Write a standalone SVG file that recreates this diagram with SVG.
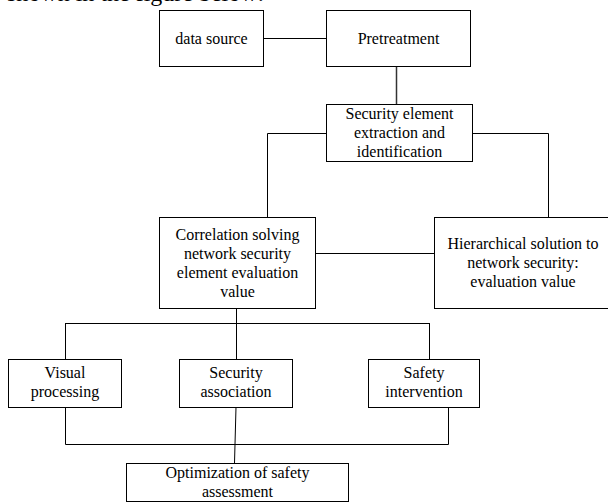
<svg xmlns="http://www.w3.org/2000/svg" width="608" height="503" viewBox="0 0 608 503">
<style>
.box{fill:#fff;stroke:#000;stroke-width:1}
.t{font-family:"Liberation Serif","Times New Roman",serif;font-size:16px;fill:#000;text-anchor:middle}
.c{fill:none;stroke:#000;stroke-width:1}
.head{font-family:"Liberation Serif","Times New Roman",serif;font-size:24px;fill:#000}
</style>
<rect width="608" height="503" fill="#fff"/>
<text class="head" x="7" y="0.5">shown in the figure below:</text>
<g id="connectors">
<line class="c" x1="263" y1="38.5" x2="326" y2="38.5"/>
<line class="c" x1="396.5" y1="66" x2="396.5" y2="104" style="stroke:#333;stroke-width:1.5"/>
<polyline class="c" points="326,133.5 267.5,133.5 267.5,217"/>
<polyline class="c" points="472,133.5 548.5,133.5 548.5,217"/>
<line class="c" x1="315" y1="253.5" x2="434" y2="253.5"/>
<line class="c" x1="236.5" y1="308" x2="236.5" y2="323"/>
<line class="c" x1="65.5" y1="323.5" x2="429.5" y2="323.5"/>
<line class="c" x1="65.5" y1="323" x2="65.5" y2="359"/>
<line class="c" x1="236.5" y1="323" x2="236.5" y2="359"/>
<line class="c" x1="429.5" y1="323" x2="429.5" y2="359"/>
<polyline class="c" points="65.5,407 65.5,444.5 448.5,444.5 448.5,407"/>
<line class="c" x1="236" y1="407" x2="234.5" y2="463"/>
</g>
<g id="data-source">
<rect class="box" x="159.5" y="10.5" width="104" height="56"/>
<text class="t" x="211.5" y="44">data source</text>
</g>
<g id="pretreatment">
<rect class="box" x="326.5" y="10.5" width="144" height="56"/>
<text class="t" x="398.5" y="44">Pretreatment</text>
</g>
<g id="security-element">
<rect class="box" x="326.5" y="104.5" width="146" height="57"/>
<text class="t" x="399.5" y="119">Security element</text>
<text class="t" x="399.5" y="138">extraction and</text>
<text class="t" x="399.5" y="157">identification</text>
</g>
<g id="correlation">
<rect class="box" x="159.5" y="217.5" width="156" height="91"/>
<text class="t" x="237.5" y="240">Correlation solving</text>
<text class="t" x="237.5" y="259">network security</text>
<text class="t" x="237.5" y="278">element evaluation</text>
<text class="t" x="237.5" y="297">value</text>
</g>
<g id="hierarchical">
<rect class="box" x="434.5" y="217.5" width="180" height="91"/>
<text class="t" x="523" y="249">Hierarchical solution to</text>
<text class="t" x="523" y="268">network security:</text>
<text class="t" x="523" y="287">evaluation value</text>
</g>
<g id="visual">
<rect class="box" x="8.5" y="359.5" width="113" height="48"/>
<text class="t" x="65" y="378">Visual</text>
<text class="t" x="65" y="397">processing</text>
</g>
<g id="security-association">
<rect class="box" x="179.5" y="359.5" width="113" height="48"/>
<text class="t" x="236" y="378">Security</text>
<text class="t" x="236" y="397">association</text>
</g>
<g id="safety-intervention">
<rect class="box" x="368.5" y="359.5" width="111" height="48"/>
<text class="t" x="424" y="378">Safety</text>
<text class="t" x="424" y="397">intervention</text>
</g>
<g id="optimization">
<rect class="box" x="126.5" y="463.5" width="222" height="38"/>
<text class="t" x="237.5" y="478">Optimization of safety</text>
<text class="t" x="237.5" y="497">assessment</text>
</g>
</svg>
